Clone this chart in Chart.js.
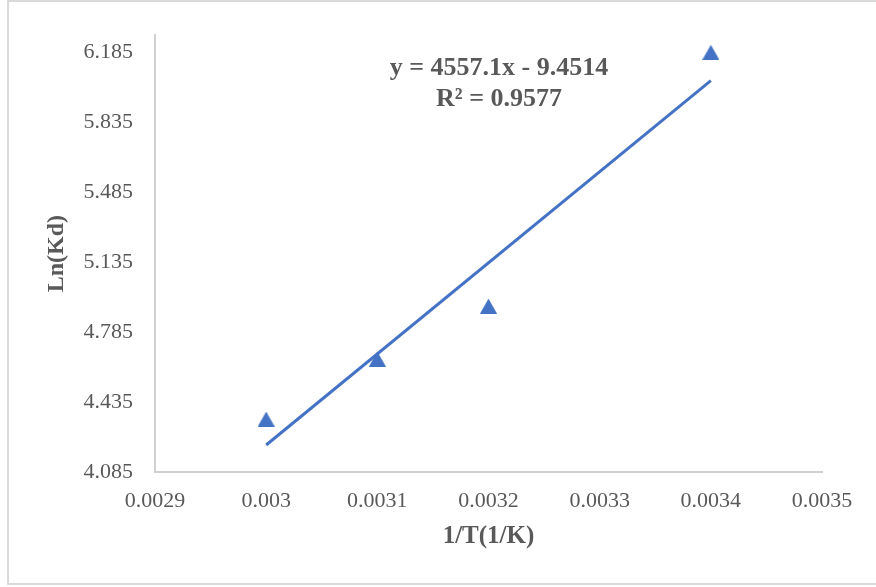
<!DOCTYPE html>
<html>
<head>
<meta charset="utf-8">
<style>
  html, body { margin: 0; padding: 0; background: #fff; }
  #wrap { position: relative; width: 876px; height: 587px; }
  canvas { display: block; }
</style>
<script src="https://cdn.jsdelivr.net/npm/chart.js@4.4.0/dist/chart.umd.min.js"></script>
</head>
<body>
<div id="wrap"><canvas id="c" width="876" height="587" style="width:876px;height:587px"></canvas></div>
<script>
// Measured points: 1/T against ln(Kd)
const invT = [0.003, 0.0031, 0.0032, 0.0034];
const lnKd = [4.35, 4.65, 4.915, 6.185];

// Axis ticks
const xTicks = [0.0029, 0.003, 0.0031, 0.0032, 0.0033, 0.0034, 0.0035];
const yTicks = [4.085, 4.435, 4.785, 5.135, 5.485, 5.835, 6.185];

// Linear trendline, as printed on the chart
const slope = 4557.1;
const intercept = -9.4514;
const rSquared = 0.9577;
const fitRange = [0.003, 0.0034];

const BLUE = '#4472C4';
const TEXT = '#595959';
const SERIF = '"Liberation Serif", "Times New Roman", serif';

// Triangle marker centred in its own box
function triangleMarker(w, h, color) {
  const cv = document.createElement('canvas');
  cv.width = w; cv.height = h;
  const g = cv.getContext('2d');
  g.fillStyle = color;
  g.beginPath();
  g.moveTo(w / 2, 0);
  g.lineTo(w, h);
  g.lineTo(0, h);
  g.closePath();
  g.fill();
  return cv;
}
const marker = triangleMarker(17, 15, BLUE);

const points = invT.map((x, i) => ({ x: x, y: lnKd[i] }));
const fitLine = fitRange.map(x => ({ x: x, y: slope * x + intercept }));

const fmt = v => String(Number(v.toFixed(4)));

const frame = {
  id: 'frame',
  beforeDraw(chart) {
    const ctx = chart.ctx;
    ctx.save();
    ctx.strokeStyle = '#d9d9d9';
    ctx.lineWidth = 2;
    ctx.strokeRect(8, 1, 880, 583);
    ctx.restore();
  }
};

const equation = {
  id: 'equation',
  afterDraw(chart) {
    const ctx = chart.ctx;
    ctx.save();
    ctx.fillStyle = TEXT;
    ctx.font = 'bold 26px ' + SERIF;
    ctx.textAlign = 'center';
    ctx.textBaseline = 'middle';
    const sign = intercept < 0 ? ' - ' : ' + ';
    ctx.fillText('y = ' + slope + 'x' + sign + Math.abs(intercept), 499, 68);
    ctx.fillText('R\u00B2 = ' + rSquared, 499, 99);
    ctx.restore();
  }
};

new Chart(document.getElementById('c'), {
  type: 'scatter',
  data: {
    datasets: [
      {
        label: 'Ln(Kd)',
        data: points,
        pointStyle: marker,
        pointRadius: 9,
        pointHoverRadius: 9,
        backgroundColor: BLUE,
        borderColor: BLUE,
        order: 2
      },
      {
        label: 'Linear fit',
        type: 'line',
        data: fitLine,
        borderColor: BLUE,
        borderWidth: 3,
        pointRadius: 0,
        fill: false,
        order: 1
      }
    ]
  },
  options: {
    responsive: false,
    animation: false,
    events: [],
    layout: { padding: { top: 31, right: 54, left: 0, bottom: 0 } },
    plugins: {
      legend: { display: false },
      tooltip: { enabled: false }
    },
    scales: {
      x: {
        type: 'linear',
        min: 0.0029,
        max: 0.0035,
        afterBuildTicks: s => { s.ticks = xTicks.map(v => ({ value: v })); },
        afterFit: s => { s.height = 115; },
        grid: { display: true, color: 'rgba(0,0,0,0)', drawTicks: false },
        border: { display: true, color: '#d0d0d0', width: 2 },
        ticks: {
          color: TEXT,
          font: { family: SERIF, size: 22 },
          padding: 16,
          maxRotation: 0,
          autoSkip: false,
          callback: v => fmt(v)
        },
        title: {
          display: true,
          text: '1/T(1/K)',
          color: TEXT,
          font: { family: SERIF, size: 25, weight: 'bold' },
          padding: { top: 0, bottom: 35 }
        }
      },
      y: {
        type: 'linear',
        min: 4.085,
        max: 6.27,
        afterBuildTicks: s => { s.ticks = yTicks.map(v => ({ value: v })); },
        afterFit: s => { s.width = 155; },
        grid: { display: true, color: 'rgba(0,0,0,0)', drawTicks: false },
        border: { display: true, color: '#d0d0d0', width: 2 },
        ticks: {
          color: TEXT,
          font: { family: SERIF, size: 22 },
          padding: 22,
          autoSkip: false,
          callback: v => fmt(v)
        },
        title: {
          display: true,
          text: 'Ln(Kd)',
          color: TEXT,
          font: { family: SERIF, size: 24, weight: 'bold' },
          padding: { top: 42, bottom: 0 }
        }
      }
    }
  },
  plugins: [frame, equation]
});
</script>
</body>
</html>
